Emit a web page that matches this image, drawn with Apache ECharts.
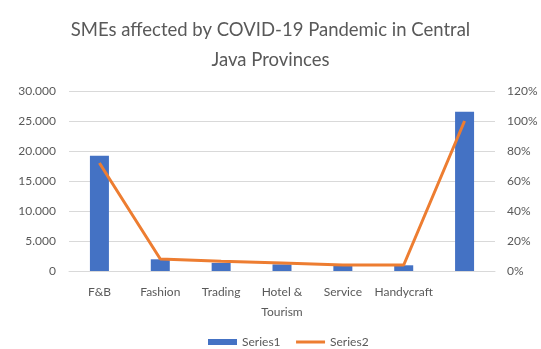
<!DOCTYPE html>
<html>
<head>
<meta charset="utf-8">
<script src="https://cdn.jsdelivr.net/npm/echarts@6/dist/echarts.min.js"></script>
<style>
  html, body { margin: 0; padding: 0; background: #fff; }
  #chart { width: 541px; height: 349px; }
</style>
</head>
<body>
<div id="chart"></div>
<script>
// Sectors and counts of affected SMEs
const categories = ['F&B', 'Fashion', 'Trading', 'Hotel & Tourism', 'Service', 'Handycraft', ''];
const series1 = [19200, 1950, 1350, 1100, 850, 950, 26550];
const series2 = [0.72, 0.08, 0.065, 0.053, 0.04, 0.04, 1.0];
const leftTicks = { min: 0, max: 30000, interval: 5000 };
const rightTicks = { min: 0, max: 1.2, interval: 0.2 };

const FONT = 'Lato';
const TEXT = '#595959';
const GRID = '#d9d9d9';

const chart = echarts.init(document.getElementById('chart'));
chart.setOption({
  animation: false,
  backgroundColor: '#fff',
  textStyle: { fontFamily: FONT },
  title: {
    text: 'SMEs affected by COVID-19 Pandemic in Central\nJava Provinces',
    left: 'center',
    top: 10,
    textStyle: { fontFamily: FONT, fontSize: 18.5, fontWeight: 'normal', color: TEXT, lineHeight: 30 }
  },
  grid: { left: 69, right: 46, top: 91, bottom: 78 },
  legend: {
    bottom: -4,
    left: 203,
    itemGap: 14,
    textStyle: { fontFamily: FONT, fontSize: 12, color: TEXT },
    data: [
      { name: 'Series1', icon: 'rect', itemStyle: { color: '#4472C4' } },
      { name: 'Series2', itemStyle: { opacity: 0 }, lineStyle: { color: '#ED7D31', width: 3 } }
    ],
    itemWidth: 29,
    itemHeight: 6
  },
  xAxis: {
    type: 'category',
    data: categories,
    axisLine: { lineStyle: { color: GRID } },
    axisTick: { show: false },
    axisLabel: {
      color: TEXT, fontFamily: FONT, fontSize: 12, margin: 11, lineHeight: 20, interval: 0,
      formatter: v => v.replace(' & ', ' &\n')
    }
  },
  yAxis: [
    {
      type: 'value', min: leftTicks.min, max: leftTicks.max, interval: leftTicks.interval,
      axisLine: { show: false }, axisTick: { show: false },
      splitLine: { lineStyle: { color: GRID } },
      axisLabel: {
        color: TEXT, fontFamily: FONT, fontSize: 12, margin: 13,
        formatter: v => v === 0 ? '0' : v.toLocaleString('de-DE')
      }
    },
    {
      type: 'value', min: rightTicks.min, max: rightTicks.max, interval: rightTicks.interval,
      axisLine: { show: false }, axisTick: { show: false },
      splitLine: { show: false },
      axisLabel: {
        color: TEXT, fontFamily: FONT, fontSize: 12, margin: 12,
        formatter: v => Math.round(v * 100) + '%'
      }
    }
  ],
  series: [
    {
      name: 'Series1', type: 'bar', data: series1, yAxisIndex: 0,
      barWidth: 19, itemStyle: { color: '#4472C4' }
    },
    {
      name: 'Series2', type: 'line', data: series2, yAxisIndex: 1,
      symbol: 'none', lineStyle: { color: '#ED7D31', width: 3 }, itemStyle: { color: '#ED7D31' }
    }
  ]
});
</script>
</body>
</html>
